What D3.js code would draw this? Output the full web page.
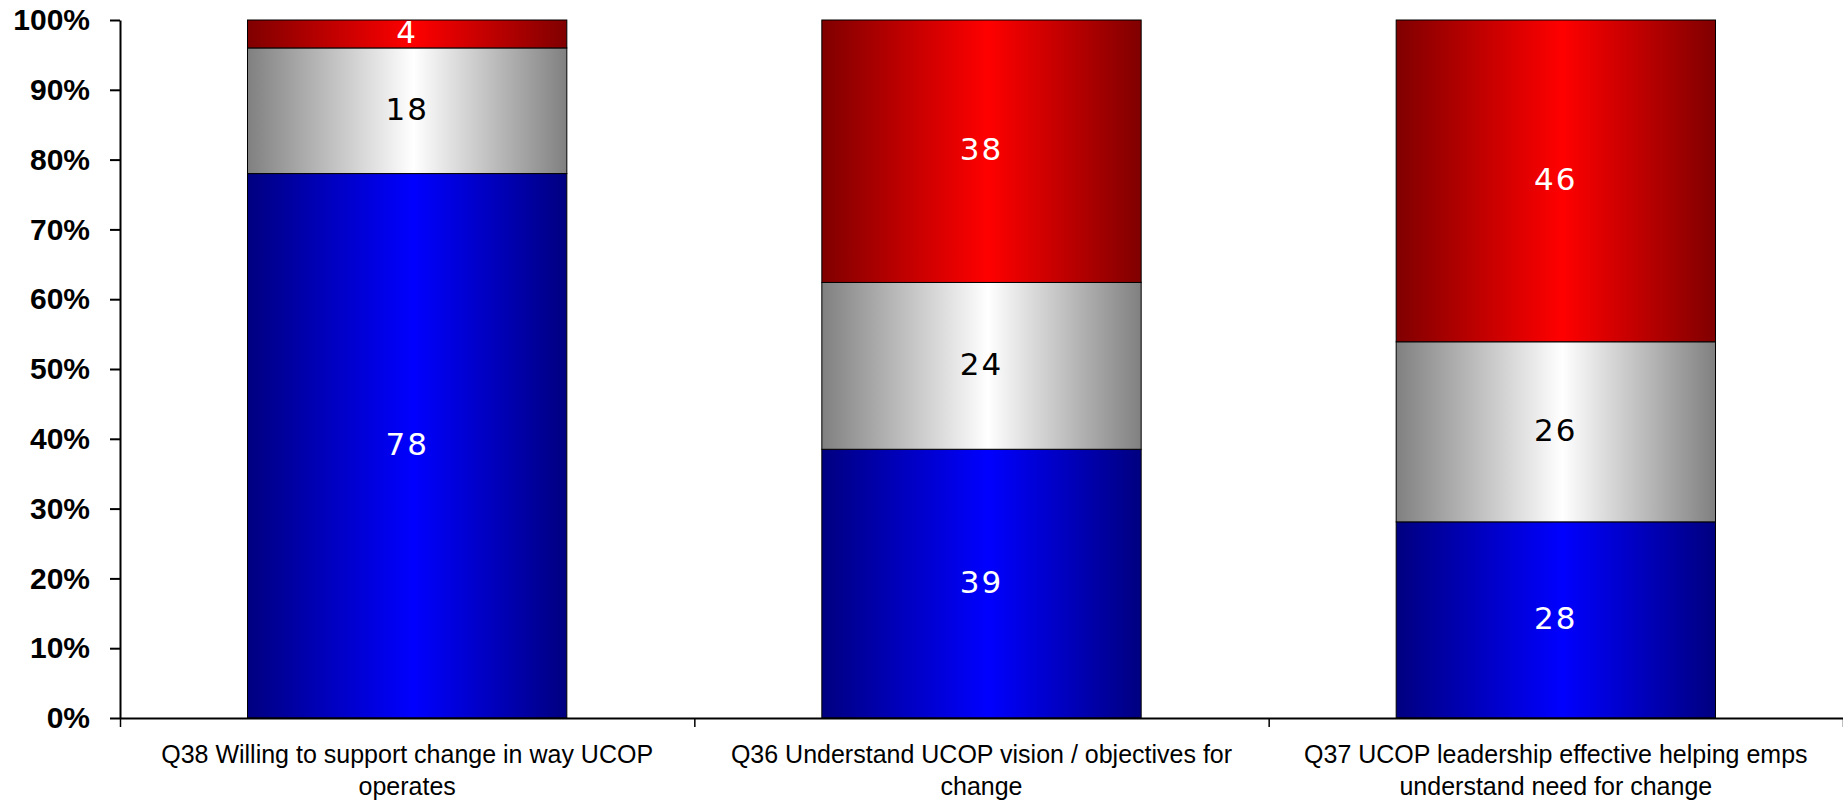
<!DOCTYPE html>
<html>
<head>
<meta charset="utf-8">
<script src="https://cdn.jsdelivr.net/npm/d3@7"></script>
<style>
  body { margin: 0; background: #fff; }
  svg { display: block; }
</style>
</head>
<body>
<script>
const width = 1843
const height = 804

// categories, one line break each as in the picture
const categories = [
    'Q38 Willing to support change in way UCOP\noperates',
    'Q36 Understand UCOP vision / objectives for\nchange',
    'Q37 UCOP leadership effective helping emps\nunderstand need for change'
]
// stacked shares in percent, bottom to top
const positive = [78, 38.5, 28.1]
const neutral = [18, 23.9, 25.8]
const negative = [4, 37.6, 46.1]
const yTicks = [0, 10, 20, 30, 40, 50, 60, 70, 80, 90, 100]

const margin = {top: 20, right: 0, bottom: 86, left: 120}
const plotW = width - margin.left - margin.right
const plotH = height - margin.top - margin.bottom

const series = [
    {key: 'pos', values: positive, dark: '#000080', light: '#0000ff', text: '#fff'},
    {key: 'neu', values: neutral, dark: '#808080', light: '#ffffff', text: '#000'},
    {key: 'neg', values: negative, dark: '#800000', light: '#ff0000', text: '#fff'}
]

var svg = d3.select('body').append('svg')
    .attr('width', width)
    .attr('height', height)

// horizontal "tube" shading like the office chart
const defs = svg.append('defs')
series.forEach(s => {
    let g = defs.append('linearGradient')
        .attr('id', 'grad-' + s.key)
        .attr('x1', '0%').attr('x2', '100%')
        .attr('y1', '0%').attr('y2', '0%')
    g.append('stop').attr('offset', '0%').attr('stop-color', s.dark)
    g.append('stop').attr('offset', '52%').attr('stop-color', s.light)
    g.append('stop').attr('offset', '100%').attr('stop-color', s.dark)
})

const g = svg.append('g')
    .attr('transform', `translate(${margin.left},${margin.top})`)

const x = d3.scaleBand()
    .domain(categories)
    .range([0, plotW])
    .paddingInner(0.444)
    .paddingOuter(0.222)

const y = d3.scaleLinear()
    .domain([0, 100])
    .range([plotH, 0])

// stack the three series per category
const rows = categories.map((c, i) => {
    let row = {cat: c}
    series.forEach(s => { row[s.key] = s.values[i] })
    return row
})
const stacked = d3.stack().keys(series.map(s => s.key))(rows)

stacked.forEach((layer, li) => {
    const s = series[li]
    const grp = g.append('g')
    grp.selectAll('rect')
        .data(layer)
        .join('rect')
        .attr('x', d => x(d.data.cat))
        .attr('y', d => y(d[1]))
        .attr('width', x.bandwidth())
        .attr('height', d => y(d[0]) - y(d[1]))
        .attr('fill', `url(#grad-${s.key})`)
        .attr('stroke', '#000')
        .attr('stroke-width', 1)

    grp.selectAll('text')
        .data(layer)
        .join('text')
        .attr('x', d => x(d.data.cat) + x.bandwidth() / 2)
        .attr('y', d => y((d[0] + d[1]) / 2))
        .attr('dy', -2)
        .attr('text-anchor', 'middle')
        .attr('dominant-baseline', 'central')
        .style('font-family', 'DejaVu Sans, sans-serif')
        .style('font-size', '31px')
        .style('letter-spacing', '2px')
        .style('fill', s.text)
        .text(d => Math.round(d[1] - d[0]))
})

// y axis
const yAxis = g.append('g')
    .call(d3.axisLeft(y)
        .tickValues(yTicks)
        .tickFormat(d => d + '%')
        .tickSize(10)
        .tickSizeOuter(0)
        .tickPadding(20))
yAxis.select('.domain').attr('stroke', '#000').attr('stroke-width', 2)
yAxis.selectAll('.tick line').attr('stroke', '#000').attr('stroke-width', 2)
yAxis.selectAll('.tick text')
    .style('font-family', 'Liberation Sans, Arial, sans-serif')
    .style('font-size', '30px')
    .style('font-weight', 'bold')
    .attr('fill', '#000')

// x axis, ticks sit between the categories
const xEdge = d3.scaleLinear().domain([0, categories.length]).range([0, plotW])
const xAxis = g.append('g')
    .attr('transform', `translate(0,${plotH})`)
    .call(d3.axisBottom(xEdge)
        .tickValues(d3.range(categories.length + 1))
        .tickFormat('')
        .tickSize(9)
        .tickSizeOuter(0))
xAxis.select('.domain').attr('stroke', '#000').attr('stroke-width', 2)
xAxis.selectAll('.tick line').attr('stroke', '#000').attr('stroke-width', 1.5)

// category labels, two lines each
const lab = g.append('g').selectAll('text')
    .data(categories)
    .join('text')
    .attr('x', d => x(d) + x.bandwidth() / 2)
    .attr('y', plotH + 45)
    .attr('text-anchor', 'middle')
    .style('font-family', 'Liberation Sans, Arial, sans-serif')
    .style('font-size', '25px')
    .style('fill', '#000')

lab.selectAll('tspan')
    .data(d => d.split('\n'))
    .join('tspan')
    .attr('x', function () { return d3.select(this.parentNode).attr('x') })
    .attr('dy', (d, i) => i === 0 ? 0 : 32)
    .text(d => d)
</script>
</body>
</html>
